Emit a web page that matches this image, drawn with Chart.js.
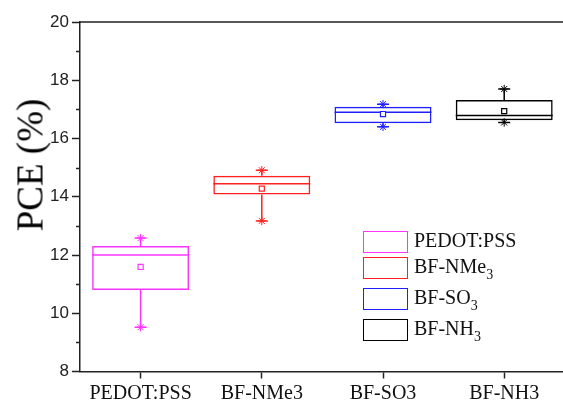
<!DOCTYPE html>
<html>
<head>
<meta charset="utf-8">
<script src="https://cdn.jsdelivr.net/npm/chart.js@4/dist/chart.umd.min.js"></script>
<style>
  html, body { margin: 0; padding: 0; background: #fff; overflow: hidden; }
  #wrap { position: relative; width: 563px; height: 405px; overflow: hidden; }
  #pce-chart { position: absolute; left: 0; top: 0; }
  #y-title {
    position: absolute; left: 30px; top: 165px;
    transform: translate(-50%, -50%) rotate(-90deg);
    font-family: "Liberation Serif", serif; font-size: 37px; color: #000;
    white-space: nowrap;
  }
  #legend { position: absolute; left: 363px; top: 231px; font-family: "Liberation Serif", serif; font-size: 20px; color: #111; }
  #legend .row { position: absolute; left: 0; height: 22px; white-space: nowrap; }
  #legend .swatch { position: absolute; left: 0; top: 0; width: 43px; height: 20px; border: 1.5px solid; }
  #legend .txt { position: absolute; left: 51px; top: -2px; line-height: 22px; }
  #legend sub { font-size: 14px; vertical-align: -6px; line-height: 0; }
</style>
</head>
<body>
<div id="wrap">
  <canvas id="pce-chart" width="570" height="405"></canvas>
  <div id="y-title">PCE (%)</div>
  <div id="legend">
    <div class="row" style="top:0px"><div class="swatch" style="border-color:#ff33ff"></div><div class="txt">PEDOT:PSS</div></div>
    <div class="row" style="top:26px"><div class="swatch" style="border-color:#ff2020"></div><div class="txt">BF-NMe<sub>3</sub></div></div>
    <div class="row" style="top:57px"><div class="swatch" style="border-color:#2020ff"></div><div class="txt">BF-SO<sub>3</sub></div></div>
    <div class="row" style="top:88px"><div class="swatch" style="border-color:#000"></div><div class="txt">BF-NH<sub>3</sub></div></div>
  </div>
</div>
<script>
var groups = ["PEDOT:PSS", "BF-NMe3", "BF-SO3", "BF-NH3"];
var colors = ["#ff33ff", "#ff2020", "#2020ff", "#000000"];

// box statistics per device (PCE %)
var q1 = [10.80, 14.08, 16.52, 16.63];
var q3 = [12.31, 14.72, 17.09, 17.32];
var medians = [12.00, 14.45, 16.90, 16.79];
var means = [11.59, 14.28, 16.84, 16.94];
var mins = [9.52, 13.17, 16.40, 16.55];
var maxs = [12.58, 14.91, 17.18, 17.70];

var yTicks = [8, 10, 12, 14, 16, 18, 20];

var datasets = [];

// floating bars for the boxes, one dataset per device
groups.forEach(function(g, i){
  var d = groups.map(function(){ return null; });
  d[i] = [q1[i], q3[i]];
  datasets.push({
    type: 'bar',
    label: g,
    data: d,
    grouped: false,
    backgroundColor: 'rgba(0,0,0,0)',
    borderColor: colors[i],
    borderWidth: 1.5,
    borderSkipped: false,
    barPercentage: 0.8,
    categoryPercentage: 1.0,
    order: 3
  });
});

// min / max stars
groups.forEach(function(g, i){
  datasets.push({
    type: 'line',
    label: g + ' range',
    data: [{x: g, y: mins[i]}, {x: g, y: maxs[i]}],
    showLine: false,
    pointStyle: 'star',
    pointRadius: 4.2,
    pointBorderWidth: 1,
    pointBorderColor: colors[i],
    pointBackgroundColor: colors[i],
    order: 1
  });
});

// mean squares
groups.forEach(function(g, i){
  datasets.push({
    type: 'line',
    label: g + ' mean',
    data: [{x: g, y: means[i]}],
    showLine: false,
    pointStyle: 'rect',
    pointRadius: 3.6,
    pointBorderWidth: 1.2,
    pointBorderColor: colors[i],
    pointBackgroundColor: '#ffffff',
    order: 1
  });
});

// whiskers, caps, median lines, minor ticks and the top frame line
var boxExtras = {
  id: 'boxExtras',
  beforeDatasetsDraw: function(chart){
    var ctx = chart.ctx, xs = chart.scales.x, ys = chart.scales.y;
    ctx.save();
    ctx.lineWidth = 1.5;
    groups.forEach(function(g, i){
      var x = xs.getPixelForValue(i);
      var bar = chart.getDatasetMeta(i).data[i];
      var half = bar ? bar.width / 2 : 49;
      ctx.strokeStyle = colors[i];
      ctx.beginPath();
      ctx.moveTo(x, ys.getPixelForValue(q3[i]));
      ctx.lineTo(x, ys.getPixelForValue(maxs[i]));
      ctx.moveTo(x, ys.getPixelForValue(q1[i]));
      ctx.lineTo(x, ys.getPixelForValue(mins[i]));
      ctx.moveTo(x - 6, ys.getPixelForValue(maxs[i]));
      ctx.lineTo(x + 6, ys.getPixelForValue(maxs[i]));
      ctx.moveTo(x - 6, ys.getPixelForValue(mins[i]));
      ctx.lineTo(x + 6, ys.getPixelForValue(mins[i]));
      ctx.moveTo(x - half, ys.getPixelForValue(medians[i]));
      ctx.lineTo(x + half, ys.getPixelForValue(medians[i]));
      ctx.stroke();
    });
    ctx.restore();
  },
  afterDraw: function(chart){
    var ctx = chart.ctx, ys = chart.scales.y, a = chart.chartArea;
    ctx.save();
    ctx.strokeStyle = '#222';
    ctx.lineWidth = 1.5;
    ctx.beginPath();
    for(var v = 9; v < 20; v += 2){
      var y = Math.round(ys.getPixelForValue(v)) + 0.5;
      ctx.moveTo(a.left - 4, y);
      ctx.lineTo(a.left, y);
    }
    ctx.moveTo(a.left, a.top);
    ctx.lineTo(a.right, a.top);
    ctx.stroke();
    ctx.restore();
  }
};

var pceChart = new Chart(document.getElementById('pce-chart').getContext('2d'), {
  data: { labels: groups, datasets: datasets },
  plugins: [boxExtras],
  options: {
    responsive: false,
    animation: false,
    devicePixelRatio: 1,
    layout: { padding: { top: 22, right: 0, left: 0, bottom: 0 } },
    plugins: { legend: { display: false }, tooltip: { enabled: false } },
    scales: {
      x: {
        type: 'category',
        offset: true,
        grid: { drawOnChartArea: false, offset: false, tickLength: 7, tickWidth: 1.5, tickColor: '#222' },
        border: { color: '#222', width: 1.5 },
        ticks: { color: '#111', padding: 3, font: { family: 'Liberation Serif', size: 20 } },
        afterFit: function(s){ s.height = 33.5; }
      },
      y: {
        min: 8,
        max: 20,
        afterBuildTicks: function(s){ s.ticks = yTicks.map(function(v){ return {value: v}; }); },
        grid: { drawOnChartArea: false, tickLength: 8, tickWidth: 1.5, tickColor: '#222' },
        border: { color: '#222', width: 1.5 },
        ticks: { color: '#222', padding: 3, font: { family: 'Liberation Sans', size: 17 } },
        afterFit: function(s){ s.width = 80; }
      }
    }
  }
});
</script>
</body>
</html>
